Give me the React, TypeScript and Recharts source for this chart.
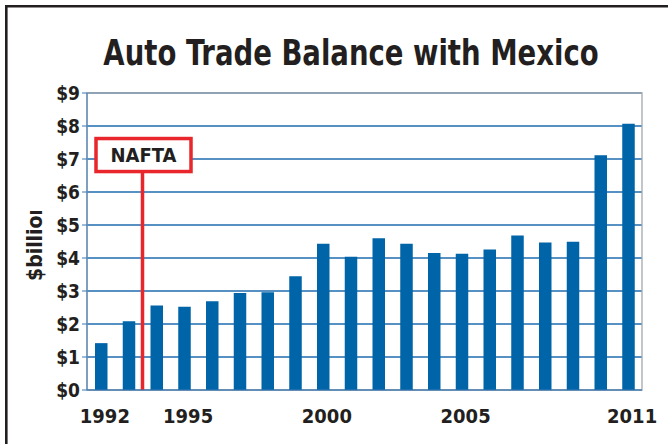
import React from "react";
import {
  BarChart,
  Bar,
  XAxis,
  YAxis,
  CartesianGrid,
  ReferenceLine,
  ReferenceArea,
} from "recharts";

// auto trade balance with Mexico, $ billion
const years = [
  1992, 1993, 1994, 1995, 1996, 1997, 1998, 1999, 2000, 2001,
  2002, 2003, 2004, 2005, 2006, 2007, 2008, 2009, 2010, 2011,
];
const balance = [
  1.42, 2.08, 2.56, 2.52, 2.69, 2.94, 2.96, 3.45, 4.43, 4.04,
  4.6, 4.43, 4.15, 4.13, 4.26, 4.68, 4.47, 4.49, 7.11, 8.07,
];
const yearLabels = [1992, 1995, 2000, 2005, 2011];
const dollarTicks = [0, 1, 2, 3, 4, 5, 6, 7, 8, 9];
const naftaYear = 1993.5; // between 1993 and 1994
const naftaTop = 6.62;

const data = years.map((year, i) => ({ year, balance: balance[i] }));
const boundaries = [years[0] - 0.5, ...years.map((y) => y + 0.5)];
const xDomain = [years[0] - 0.5, years[years.length - 1] + 0.5];

const numFont = "'DejaVu Sans Condensed', 'DejaVu Sans', sans-serif";
const ink = "#231f20";
const blue = "#0064a8";
const gridBlue = "#1f6db0";
const red = "#e8262b";

function NaftaBox(props: any) {
  const vb = props.viewBox || {};
  const cx = vb.x + 1;
  const bottom = vb.y;
  const w = 95;
  const h = 33;
  return (
    <g>
      <rect
        x={cx - w / 2}
        y={bottom - h}
        width={w}
        height={h}
        fill="#fff"
        stroke={red}
        strokeWidth={3.5}
      />
      <text
        x={cx}
        y={bottom - h / 2 + 7}
        textAnchor="middle"
        fill={ink}
        fontFamily={numFont}
        fontWeight="bold"
        fontSize={20}
      >
        NAFTA
      </text>
    </g>
  );
}

export default function App() {
  return (
    <div
      style={{
        position: "absolute",
        left: 0,
        top: 0,
        width: 668,
        height: 444,
        background: "#fff",
      }}
    >
      <BarChart
        width={668}
        height={444}
        data={data}
        margin={{ top: 93, right: 26, bottom: 14, left: 7 }}
      >
        <CartesianGrid
          xAxisId="b_labels"
          vertical={false}
          stroke={gridBlue}
          strokeWidth={1.3}
        />
        <ReferenceArea
          xAxisId="b_labels"
          x1={xDomain[0]}
          x2={xDomain[1]}
          y1={0}
          y2={9}
          fill="none"
          fillOpacity={0}
          stroke="#a3a9ae"
          strokeWidth={1.3}
        />
        <XAxis
          xAxisId="a_ticks"
          dataKey="year"
          type="number"
          domain={xDomain}
          ticks={boundaries}
          tick={false}
          height={6}
          tickSize={5}
          stroke="#3a78b5"
        />
        <XAxis
          xAxisId="b_labels"
          dataKey="year"
          type="number"
          domain={xDomain}
          ticks={yearLabels}
          axisLine={false}
          tickLine={false}
          height={34}
          tickSize={6}
          tickMargin={7}
          tick={{
            fill: ink,
            fontSize: 20,
            fontWeight: "bold",
            fontFamily: numFont,
            dx: 4,
          }}
        />
        <YAxis
          domain={[0, 9]}
          ticks={dollarTicks}
          width={80}
          tickSize={5}
          tickMargin={2}
          stroke="#3a78b5"
          tickFormatter={(v) => `$${v}`}
          tick={{
            fill: ink,
            fontSize: 19,
            fontWeight: "bold",
            fontFamily: numFont,
          }}
        />
        <Bar
          xAxisId="b_labels"
          dataKey="balance"
          fill={blue}
          barSize={12.5}
          isAnimationActive={false}
        />
        <ReferenceLine
          xAxisId="b_labels"
          segment={[
            { x: naftaYear, y: 0 },
            { x: naftaYear, y: naftaTop },
          ]}
          stroke={red}
          strokeWidth={3.5}
          label={<NaftaBox />}
        />
      </BarChart>
      <svg
        width={668}
        height={444}
        style={{ position: "absolute", left: 0, top: 0, pointerEvents: "none" }}
      >
        <defs>
          <clipPath id="unitClip">
            <rect x={0} y={211} width={80} height={120} />
          </clipPath>
        </defs>
        <path d="M6.3 444 V6.3 H668" fill="none" stroke={ink} strokeWidth={2.6} />
        <g transform="translate(351,65) scale(0.85,1)">
          <text
            x={0}
            y={0}
            textAnchor="middle"
            fill={ink}
            fontFamily={numFont}
            fontWeight="bold"
            fontSize={36}
          >
            Auto Trade Balance with Mexico
          </text>
        </g>
        <g clipPath="url(#unitClip)">
          <text
            transform="translate(42,281) rotate(-90)"
            fill={ink}
            fontFamily={numFont}
            fontWeight="bold"
            fontSize={21}
          >
            $billion
          </text>
        </g>
      </svg>
    </div>
  );
}
